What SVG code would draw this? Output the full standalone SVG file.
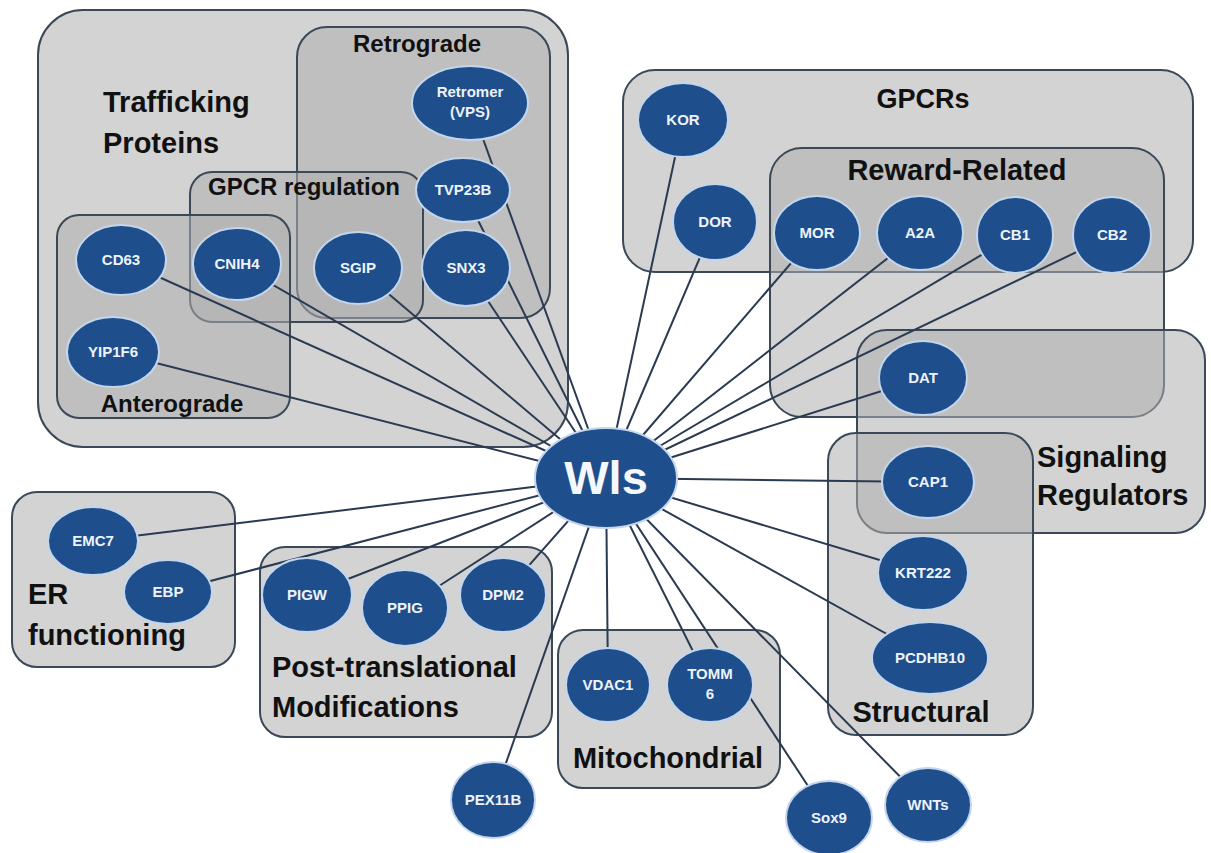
<svg xmlns="http://www.w3.org/2000/svg" width="1211" height="853" viewBox="0 0 1211 853">
<style>
.box{fill:#aeaeae;fill-opacity:0.55;stroke:#3a4858;stroke-width:2}
.t1{font-family:"Liberation Sans",Arial,sans-serif;font-weight:bold;font-size:29px;fill:#111}
.t2{font-family:"Liberation Sans",Arial,sans-serif;font-weight:bold;font-size:24px;fill:#111}
.nd{fill:#1f4e8c;stroke:#c3d6ec;stroke-width:2}
.nl{font-family:"Liberation Sans",Arial,sans-serif;font-weight:bold;font-size:15px;fill:#eef3fa;text-anchor:middle}
.cn line{stroke:#2a3a50;stroke-width:2}
</style>
<rect width="1211" height="853" fill="#ffffff"/>
<g id="trafficking-proteins">
<rect class="box" x="38" y="10" width="530" height="437" rx="45"/>
<text class="t1" x="103" y="112">Trafficking</text>
<text class="t1" x="103" y="153">Proteins</text>
</g>
<g id="retrograde">
<rect class="box" x="297" y="27" width="253" height="291" rx="30"/>
<text class="t2" x="417" y="52" text-anchor="middle">Retrograde</text>
</g>
<g id="gpcr-regulation">
<rect class="box" x="190" y="172" width="233" height="150" rx="22"/>
<text class="t2" x="304" y="195" text-anchor="middle">GPCR regulation</text>
</g>
<g id="anterograde">
<rect class="box" x="57" y="215" width="233" height="203" rx="22"/>
<text class="t2" x="172" y="412" text-anchor="middle">Anterograde</text>
</g>
<g id="gpcrs">
<rect class="box" x="623" y="70" width="570" height="202" rx="32"/>
<text class="t2" x="923" y="108" text-anchor="middle" style="font-size:27px">GPCRs</text>
</g>
<g id="reward-related">
<rect class="box" x="770" y="148" width="394" height="269" rx="32"/>
<text class="t1" x="957" y="180" text-anchor="middle">Reward-Related</text>
</g>
<g id="signaling-regulators">
<rect class="box" x="857" y="330" width="348" height="203" rx="30"/>
<text class="t1" x="1037" y="467">Signaling</text>
<text class="t1" x="1037" y="505">Regulators</text>
</g>
<g id="structural">
<rect class="box" x="828" y="433" width="205" height="302" rx="28"/>
<text class="t1" x="921" y="722" text-anchor="middle">Structural</text>
</g>
<g id="er-functioning">
<rect class="box" x="12" y="492" width="223" height="175" rx="25"/>
<text class="t1" x="28" y="604">ER</text>
<text class="t1" x="28" y="645">functioning</text>
</g>
<g id="post-translational">
<rect class="box" x="260" y="547" width="292" height="190" rx="25"/>
<text class="t1" x="272" y="677">Post-translational</text>
<text class="t1" x="272" y="717">Modifications</text>
</g>
<g id="mitochondrial">
<rect class="box" x="558" y="630" width="222" height="158" rx="25"/>
<text class="t1" x="668" y="768" text-anchor="middle">Mitochondrial</text>
</g>
<g id="connectors" class="cn">
<line x1="606" y1="478" x2="470" y2="103"/>
<line x1="606" y1="478" x2="463" y2="190"/>
<line x1="606" y1="478" x2="466" y2="268"/>
<line x1="606" y1="478" x2="358" y2="268"/>
<line x1="606" y1="478" x2="237" y2="264"/>
<line x1="606" y1="478" x2="121" y2="260"/>
<line x1="606" y1="478" x2="113" y2="352"/>
<line x1="606" y1="478" x2="683" y2="120"/>
<line x1="606" y1="478" x2="715" y2="222"/>
<line x1="606" y1="478" x2="817" y2="233"/>
<line x1="606" y1="478" x2="920" y2="233"/>
<line x1="606" y1="478" x2="1015" y2="235"/>
<line x1="606" y1="478" x2="1112" y2="235"/>
<line x1="606" y1="478" x2="923" y2="378"/>
<line x1="606" y1="478" x2="928" y2="482"/>
<line x1="606" y1="478" x2="923" y2="573"/>
<line x1="606" y1="478" x2="930" y2="658"/>
<line x1="606" y1="478" x2="93" y2="541"/>
<line x1="606" y1="478" x2="168" y2="592"/>
<line x1="606" y1="478" x2="307" y2="595"/>
<line x1="606" y1="478" x2="405" y2="608"/>
<line x1="606" y1="478" x2="503" y2="595"/>
<line x1="606" y1="478" x2="493" y2="800"/>
<line x1="606" y1="478" x2="608" y2="685"/>
<line x1="606" y1="478" x2="710" y2="685"/>
<line x1="606" y1="478" x2="829" y2="818"/>
<line x1="606" y1="478" x2="928" y2="805"/>
</g>
<g id="node-retromer"><ellipse class="nd" cx="470" cy="103" rx="58" ry="37"/><text class="nl" x="470" y="97">Retromer</text><text class="nl" x="470" y="117">(VPS)</text></g>
<g id="node-tvp23b"><ellipse class="nd" cx="463" cy="190" rx="47" ry="32"/><text class="nl" x="463" y="195">TVP23B</text></g>
<g id="node-snx3"><ellipse class="nd" cx="466" cy="268" rx="44" ry="38"/><text class="nl" x="466" y="273">SNX3</text></g>
<g id="node-sgip"><ellipse class="nd" cx="358" cy="268" rx="44" ry="36"/><text class="nl" x="358" y="273">SGIP</text></g>
<g id="node-cnih4"><ellipse class="nd" cx="237" cy="264" rx="44" ry="36"/><text class="nl" x="237" y="269">CNIH4</text></g>
<g id="node-cd63"><ellipse class="nd" cx="121" cy="260" rx="45" ry="35"/><text class="nl" x="121" y="265">CD63</text></g>
<g id="node-yip1f6"><ellipse class="nd" cx="113" cy="352" rx="46" ry="35"/><text class="nl" x="113" y="357">YIP1F6</text></g>
<g id="node-kor"><ellipse class="nd" cx="683" cy="120" rx="45" ry="37"/><text class="nl" x="683" y="125">KOR</text></g>
<g id="node-dor"><ellipse class="nd" cx="715" cy="222" rx="42" ry="38"/><text class="nl" x="715" y="227">DOR</text></g>
<g id="node-mor"><ellipse class="nd" cx="817" cy="233" rx="43" ry="37"/><text class="nl" x="817" y="238">MOR</text></g>
<g id="node-a2a"><ellipse class="nd" cx="920" cy="233" rx="43" ry="37"/><text class="nl" x="920" y="238">A2A</text></g>
<g id="node-cb1"><ellipse class="nd" cx="1015" cy="235" rx="38" ry="38"/><text class="nl" x="1015" y="240">CB1</text></g>
<g id="node-cb2"><ellipse class="nd" cx="1112" cy="235" rx="39" ry="38"/><text class="nl" x="1112" y="240">CB2</text></g>
<g id="node-dat"><ellipse class="nd" cx="923" cy="378" rx="44" ry="37"/><text class="nl" x="923" y="383">DAT</text></g>
<g id="node-cap1"><ellipse class="nd" cx="928" cy="482" rx="46" ry="36"/><text class="nl" x="928" y="487">CAP1</text></g>
<g id="node-krt222"><ellipse class="nd" cx="923" cy="573" rx="45" ry="37"/><text class="nl" x="923" y="578">KRT222</text></g>
<g id="node-pcdhb10"><ellipse class="nd" cx="930" cy="658" rx="58" ry="36"/><text class="nl" x="930" y="663">PCDHB10</text></g>
<g id="node-emc7"><ellipse class="nd" cx="93" cy="541" rx="45" ry="34"/><text class="nl" x="93" y="546">EMC7</text></g>
<g id="node-ebp"><ellipse class="nd" cx="168" cy="592" rx="44" ry="32"/><text class="nl" x="168" y="597">EBP</text></g>
<g id="node-pigw"><ellipse class="nd" cx="307" cy="595" rx="45" ry="37"/><text class="nl" x="307" y="600">PIGW</text></g>
<g id="node-ppig"><ellipse class="nd" cx="405" cy="608" rx="43" ry="38"/><text class="nl" x="405" y="613">PPIG</text></g>
<g id="node-dpm2"><ellipse class="nd" cx="503" cy="595" rx="43" ry="37"/><text class="nl" x="503" y="600">DPM2</text></g>
<g id="node-pex11b"><ellipse class="nd" cx="493" cy="800" rx="42" ry="38"/><text class="nl" x="493" y="805">PEX11B</text></g>
<g id="node-vdac1"><ellipse class="nd" cx="608" cy="685" rx="42" ry="37"/><text class="nl" x="608" y="690">VDAC1</text></g>
<g id="node-tomm6"><ellipse class="nd" cx="710" cy="685" rx="43" ry="37"/><text class="nl" x="710" y="679">TOMM</text><text class="nl" x="710" y="699">6</text></g>
<g id="node-sox9"><ellipse class="nd" cx="829" cy="818" rx="43" ry="37"/><text class="nl" x="829" y="823">Sox9</text></g>
<g id="node-wnts"><ellipse class="nd" cx="928" cy="805" rx="43" ry="37"/><text class="nl" x="928" y="810">WNTs</text></g>
<g id="node-wls"><ellipse class="nd" cx="606" cy="478" rx="71" ry="50"/><text x="606" y="494" text-anchor="middle" style="font-family:'Liberation Sans',Arial,sans-serif;font-weight:bold;font-size:47px;fill:#f4f7fb">Wls</text></g>
</svg>
